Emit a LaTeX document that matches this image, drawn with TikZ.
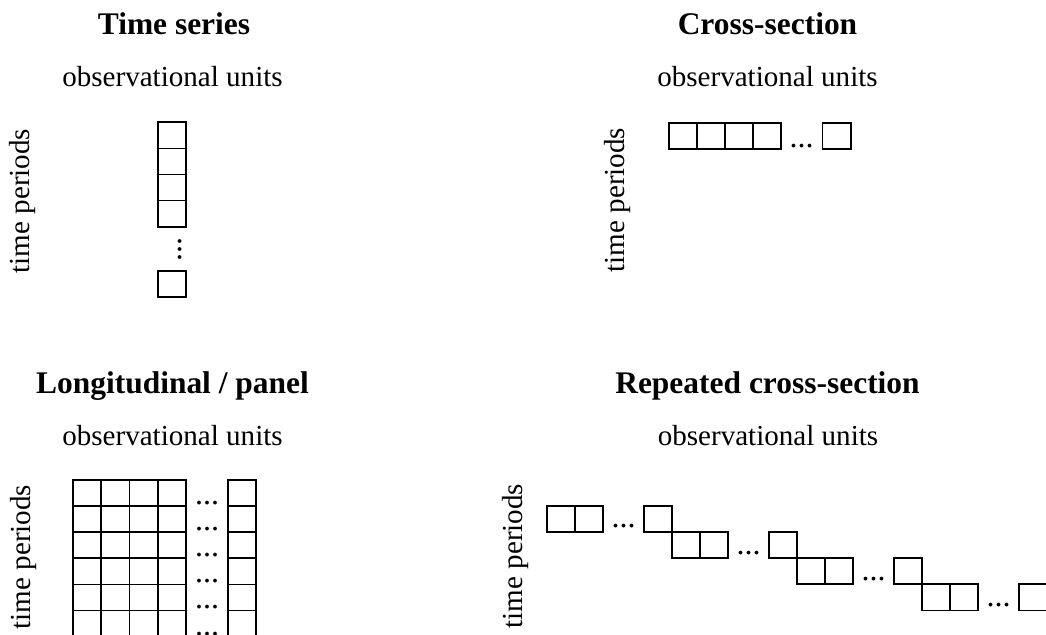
\documentclass[tikz,border=0pt]{standalone}
\usepackage{fontspec}
\setmainfont{Liberation Serif}
\begin{document}
\begin{tikzpicture}[x=0.75pt,y=-0.75pt,
  cell/.style={draw,line width=1.3pt},
  paneltitle/.style={font=\fontsize{23.6}{28}\selectfont\bfseries,anchor=base,inner sep=0pt},
  axislabel/.style={font=\fontsize{21.8}{26}\selectfont,anchor=base,inner sep=0pt},
  periodlabel/.style={font=\fontsize{21.8}{26}\selectfont,rotate=90,inner sep=0pt},
  ellip/.style={font=\fontsize{24}{26}\selectfont,anchor=base,inner sep=0pt,
    text height=0.15em,text depth=0pt}]
\def\cellw{28.2}
\def\cellh{26.1}
\useasboundingbox (0,0) rectangle (1046,635);
\clip (0,0) rectangle (1046,635);

% ---------- Time series ----------
\node[paneltitle] (tsT) at (174,35) {Time series};
\node[axislabel] (tsU) at (172.5,87) {observational units};
\node[periodlabel] (tsP) at (23,201) {time periods};
\foreach \r in {0,...,3}
  \draw[cell] (157.8,{122.3+\r*\cellh}) rectangle ++(\cellw,\cellh);
\node[ellip,rotate=90] (tsD) at (181.5,249) {...};
\draw[cell] (157.8,271) rectangle ++(\cellw,\cellh);

% ---------- Cross-section ----------
\node[paneltitle] (csT) at (767.5,35) {Cross-section};
\node[axislabel] (csU) at (767.5,87) {observational units};
\node[periodlabel] (csP) at (618,200) {time periods};
\foreach \c in {0,...,3}
  \draw[cell] ({669+\c*28},122.7) rectangle ++(28,\cellh);
\node[ellip] (csD) at (801.5,147) {...};
\draw[cell] (822.5,122.7) rectangle ++(\cellw,\cellh);

% ---------- Longitudinal / panel ----------
\node[paneltitle] (lpT) at (172.5,393) {Longitudinal / panel};
\node[axislabel] (lpU) at (172.5,445) {observational units};
\node[periodlabel] (lpP) at (24,557) {time periods};
\foreach \r in {0,...,5}{
  \foreach \c in {0,...,3}
    \draw[cell] ({73+\c*28.25},{480+\r*\cellh}) rectangle ++(28.25,\cellh);
  \node[ellip] (lpD\r) at (207,{480+(\r+1)*\cellh-1.6}) {...};
  \draw[cell] (228,{480+\r*\cellh}) rectangle ++(28.25,\cellh);
}

% ---------- Repeated cross-section ----------
\node[paneltitle] (rcT) at (767.5,393) {Repeated cross-section};
\node[axislabel] (rcU) at (768,445) {observational units};
\node[periodlabel] (rcP) at (516,556) {time periods};
\foreach \r in {0,...,3}{
  \pgfmathsetmacro{\xs}{547+\r*125}
  \pgfmathsetmacro{\ys}{506+\r*\cellh}
  \draw[cell] (\xs,\ys) rectangle ++(28,\cellh);
  \draw[cell] (\xs+28,\ys) rectangle ++(28,\cellh);
  \node[ellip] (rcD\r) at (\xs+76.5,\ys+\cellh-4.2) {...};
  \draw[cell] (\xs+97,\ys) rectangle ++(28,\cellh);
}
\end{tikzpicture}
\end{document}
